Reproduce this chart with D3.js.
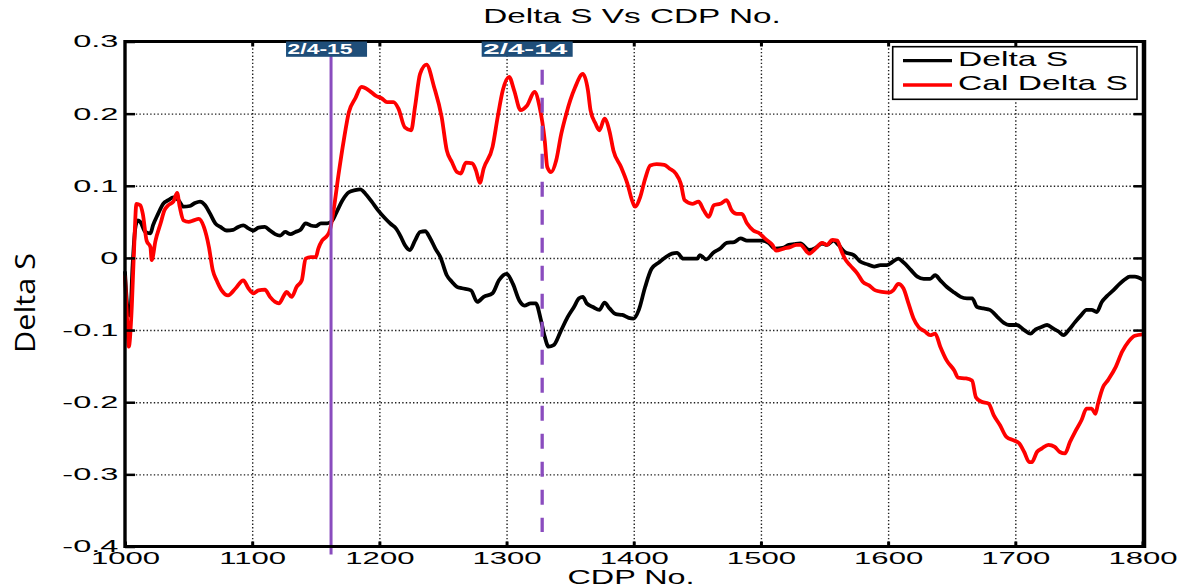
<!DOCTYPE html>
<html>
<head>
<meta charset="utf-8">
<script src="https://cdn.jsdelivr.net/npm/d3@7"></script>
<style>
  html, body { margin: 0; padding: 0; background: #ffffff; }
  svg { display: block; }
</style>
</head>
<body>
<svg id="chart" width="1182" height="588"></svg>
<script>
// ---------------- DATA ----------------
const chartTitle = "Delta S Vs CDP No.";
const xLabel = "CDP No.";
const yLabel = "Delta S";
const xTicks = [1000, 1100, 1200, 1300, 1400, 1500, 1600, 1700, 1800];
const yTicks = [-0.4, -0.3, -0.2, -0.1, 0, 0.1, 0.2, 0.3];
const yTickLabels = ["-0.4", "-0.3", "-0.2", "-0.1", "0", "0.1", "0.2", "0.3"];
const seriesNames = ["Delta S", "Cal Delta S"];

const deltaSCdp = [1000,1002,1004,1006,1008,1010,1012,1016,1020,1022,1026,1030,1034,1038,1042,1046,1051,1055,1059,1063,1067,1071,1075,1080,1085,1089,1093,1097,1101,1105,1110,1114,1118,1122,1126,1130,1134,1138,1142,1146,1150,1154,1159,1163,1167,1171,1176,1181,1185,1189,1194,1199,1205,1209,1213,1217,1220,1224,1228,1232,1236,1240,1244,1248,1253,1257,1261,1265,1272,1277,1282,1289,1294,1300,1305,1310,1314,1319,1323,1327,1330,1333,1337,1343,1348,1353,1357,1360,1363,1368,1373,1377,1381,1386,1391,1396,1400,1404,1409,1414,1420,1425,1430,1434,1439,1444,1450,1452,1457,1463,1468,1473,1479,1484,1489,1496,1501,1506,1511,1517,1522,1526,1531,1538,1543,1548,1552,1557,1561,1566,1573,1578,1584,1589,1594,1599,1603,1608,1612,1618,1623,1628,1633,1637,1641,1646,1652,1657,1662,1666,1670,1675,1680,1686,1691,1695,1701,1707,1712,1716,1720,1725,1730,1734,1738,1742,1747,1752,1756,1760,1764,1768,1772,1777,1782,1786,1790,1794,1800];
const deltaS = [-0.02,-0.07,-0.08,-0.01,0.04,0.052,0.05,0.036,0.034,0.045,0.061,0.075,0.08,0.084,0.08,0.071,0.072,0.076,0.078,0.073,0.061,0.048,0.043,0.038,0.039,0.043,0.045,0.041,0.038,0.042,0.043,0.038,0.033,0.031,0.036,0.033,0.036,0.039,0.048,0.045,0.044,0.048,0.048,0.052,0.066,0.08,0.091,0.094,0.095,0.089,0.078,0.066,0.054,0.047,0.041,0.029,0.018,0.011,0.024,0.036,0.037,0.027,0.013,0.001,-0.024,-0.033,-0.040,-0.042,-0.045,-0.061,-0.054,-0.049,-0.031,-0.022,-0.036,-0.059,-0.066,-0.063,-0.063,-0.086,-0.109,-0.123,-0.121,-0.1,-0.082,-0.068,-0.056,-0.054,-0.063,-0.068,-0.072,-0.062,-0.070,-0.078,-0.079,-0.083,-0.084,-0.072,-0.04,-0.015,-0.006,0.001,0.006,0.007,-0.001,-0.001,-0.001,0.004,-0.002,0.008,0.013,0.021,0.022,0.027,0.024,0.024,0.024,0.021,0.013,0.014,0.018,0.019,0.02,0.011,0.014,0.02,0.018,0.024,0.018,0.008,0.004,-0.005,-0.009,-0.012,-0.01,-0.01,-0.006,-0.001,-0.006,-0.017,-0.026,-0.029,-0.029,-0.024,-0.031,-0.040,-0.048,-0.054,-0.056,-0.056,-0.068,-0.07,-0.072,-0.082,-0.09,-0.093,-0.093,-0.1,-0.105,-0.099,-0.096,-0.093,-0.098,-0.102,-0.107,-0.1,-0.089,-0.079,-0.072,-0.072,-0.075,-0.061,-0.053,-0.045,-0.036,-0.03,-0.026,-0.026,-0.03];

const calDeltaSCdp = [1000,1001.5,1003,1005,1007,1009,1012,1014,1017,1020,1021,1024,1028,1031,1034,1038,1041,1043,1046,1050,1054,1058,1062,1066,1069,1072,1076,1081,1087,1093,1097,1101,1105,1110,1114,1118,1121,1125,1127,1131,1135,1139,1142,1146,1150,1152,1155,1159,1161,1164,1168,1172,1176,1181,1186,1192,1197,1202,1206,1211,1215,1220,1225,1228,1232,1237,1243,1249,1253,1257,1261,1264,1268,1273,1276,1279,1282,1289,1293,1297,1302,1306,1311,1316,1322,1326,1330,1332,1335,1339,1343,1347,1350,1354,1360,1364,1366,1370,1373,1377,1381,1384,1390,1395,1399,1401,1405,1409,1413,1418,1424,1428,1433,1437,1440,1446,1451,1455,1459,1463,1468,1473,1477,1481,1485,1489,1494,1499,1503,1509,1512,1518,1523,1528,1531,1538,1543,1548,1552,1556,1560,1563,1566,1570,1576,1580,1585,1590,1595,1601,1604,1608,1612,1616,1620,1624,1629,1633,1637,1641,1646,1652,1655,1661,1666,1669,1673,1679,1683,1688,1693,1699,1703,1707,1711,1713,1717,1721,1726,1731,1735,1739,1743,1747,1752,1756,1760,1763,1765,1769,1773,1779,1784,1789,1794,1800];
const calDeltaS = [-0.026,-0.08,-0.123,-0.08,0.006,0.075,0.073,0.061,0.024,0.015,-0.003,0.024,0.048,0.066,0.073,0.078,0.09,0.071,0.052,0.05,0.052,0.054,0.043,0.015,-0.017,-0.031,-0.045,-0.052,-0.042,-0.031,-0.042,-0.049,-0.045,-0.044,-0.054,-0.061,-0.063,-0.052,-0.047,-0.054,-0.040,-0.031,-0.001,0.001,0.001,0.013,0.024,0.031,0.038,0.066,0.117,0.163,0.202,0.221,0.237,0.232,0.225,0.221,0.216,0.216,0.207,0.181,0.177,0.209,0.255,0.268,0.237,0.195,0.149,0.133,0.119,0.117,0.132,0.131,0.121,0.104,0.124,0.154,0.195,0.232,0.251,0.232,0.205,0.211,0.23,0.209,0.163,0.126,0.119,0.135,0.172,0.2,0.218,0.237,0.255,0.232,0.205,0.186,0.177,0.193,0.175,0.149,0.126,0.103,0.078,0.071,0.084,0.11,0.128,0.13,0.129,0.124,0.117,0.103,0.08,0.075,0.078,0.066,0.057,0.073,0.075,0.08,0.066,0.061,0.061,0.048,0.038,0.034,0.027,0.018,0.01,0.013,0.015,0.018,0.018,0.006,0.013,0.021,0.018,0.025,0.024,0.011,-0.001,-0.01,-0.022,-0.033,-0.038,-0.045,-0.047,-0.048,-0.045,-0.036,-0.042,-0.063,-0.084,-0.096,-0.102,-0.107,-0.105,-0.123,-0.142,-0.156,-0.166,-0.167,-0.17,-0.193,-0.199,-0.202,-0.218,-0.232,-0.248,-0.253,-0.257,-0.269,-0.283,-0.283,-0.269,-0.264,-0.259,-0.262,-0.269,-0.271,-0.255,-0.241,-0.225,-0.209,-0.209,-0.216,-0.202,-0.179,-0.169,-0.151,-0.13,-0.116,-0.108,-0.106];

const markerCdp = [1162, 1328];
const markerLabels = ["2/4-15", "2/4-14"];
const markerTop = [0.3, 0.261];
const markerBottom = [-0.411, -0.38];

// ---------------- LAYOUT / STYLE ----------------
const FONT = "'Liberation Sans', Arial, Helvetica, sans-serif";
const margin = { left: 125, right: 1142.5, top: 41.5, bottom: 546.5 };
const seriesColors = ["#000000", "#ff0000"];
const markerColor = "#8a4cbe";
const markerDashed = [false, true];
const labelBoxOffset = [-45, -60.5];
const labelBoxWidth = [81, 91];
const labelTextLen = [65, 84];

const svg = d3.select("#chart");
svg.append("rect").attr("width", 1182).attr("height", 588).attr("fill", "#fff");

const x = d3.scaleLinear().domain([1000, 1800]).range([margin.left, margin.right]);
const y = d3.scaleLinear().domain([-0.4, 0.3]).range([margin.bottom, margin.top]);

// grid lines (dotted)
const gridX = svg.append("g").attr("transform", `translate(0,${margin.bottom})`)
  .call(d3.axisBottom(x).tickValues(xTicks.slice(1, -1)).tickSize(-(margin.bottom - margin.top)).tickFormat(""));
const gridY = svg.append("g").attr("transform", `translate(${margin.left},0)`)
  .call(d3.axisLeft(y).tickValues(yTicks.slice(1, -1)).tickSize(-(margin.right - margin.left)).tickFormat(""));
[gridX, gridY].forEach(g => {
  g.select(".domain").remove();
  g.selectAll("line").attr("stroke", "#222").attr("stroke-width", 1.4).attr("stroke-dasharray", "1.4,2.2");
});

// data lines
const line = d3.line().curve(d3.curveMonotoneX).x(d => x(d[0])).y(d => y(d[1]));
const blackData = deltaSCdp.map((c, i) => [c, deltaS[i]]);
const redData = calDeltaSCdp.map((c, i) => [c, calDeltaS[i]]);
svg.append("path").datum(blackData).attr("d", line).attr("fill", "none")
  .attr("stroke", seriesColors[0]).attr("stroke-width", 3.8).attr("stroke-linejoin", "round").attr("stroke-linecap", "round");
svg.append("path").datum(redData).attr("d", line).attr("fill", "none")
  .attr("stroke", seriesColors[1]).attr("stroke-width", 3.8).attr("stroke-linejoin", "round").attr("stroke-linecap", "round");

// marker lines
markerCdp.forEach((c, i) => {
  svg.append("line")
    .attr("x1", x(c)).attr("x2", x(c))
    .attr("y1", y(markerTop[i])).attr("y2", y(markerBottom[i]))
    .attr("stroke", markerColor).attr("stroke-width", markerDashed[i] ? 3.3 : 3)
    .attr("stroke-dasharray", markerDashed[i] ? "15,13" : null);
});

// frame
svg.append("line").attr("x1", margin.left).attr("x2", margin.right + 2).attr("y1", margin.top).attr("y2", margin.top)
  .attr("stroke", "#000").attr("stroke-width", 3.2);
svg.append("line").attr("x1", margin.left).attr("x2", margin.right + 2).attr("y1", margin.bottom).attr("y2", margin.bottom)
  .attr("stroke", "#000").attr("stroke-width", 3);
svg.append("line").attr("x1", margin.left).attr("x2", margin.left).attr("y1", margin.top - 1.6).attr("y2", margin.bottom + 1.5)
  .attr("stroke", "#000").attr("stroke-width", 3.4);
svg.append("line").attr("x1", margin.right + 1.5).attr("x2", margin.right + 1.5).attr("y1", margin.top - 1.6).attr("y2", margin.bottom + 1.5)
  .attr("stroke", "#000").attr("stroke-width", 4.5);

// axes ticks (inward) and labels
const xAxis = svg.append("g").attr("transform", `translate(0,${margin.bottom})`)
  .call(d3.axisBottom(x).tickValues(xTicks).tickSize(-5).tickFormat(d3.format("d")));
xAxis.select(".domain").remove();
xAxis.selectAll("line").attr("stroke", "#000").attr("stroke-width", 3);
xAxis.selectAll("text").attr("y", 0).attr("dy", 0)
  .attr("transform", "translate(0,17.5) scale(1.83,1)")
  .attr("font-family", FONT).attr("font-size", 17).attr("fill", "#000");

const xTop = svg.append("g").attr("transform", `translate(0,${margin.top})`)
  .call(d3.axisTop(x).tickValues(xTicks.slice(1, -1)).tickSize(-5).tickFormat(""));
xTop.select(".domain").remove();
xTop.selectAll("line").attr("stroke", "#000").attr("stroke-width", 3);

const yAxis = svg.append("g").attr("transform", `translate(${margin.left},0)`)
  .call(d3.axisLeft(y).tickValues(yTicks).tickSize(-10).tickFormat((d, i) => yTickLabels[i]));
yAxis.select(".domain").remove();
yAxis.selectAll("line").attr("stroke", "#000").attr("stroke-width", 2.5);
yAxis.selectAll("text").attr("x", 0).attr("dy", "0.33em")
  .attr("transform", "translate(-6.5,0) scale(2.0,1)")
  .attr("text-anchor", "end")
  .attr("font-family", FONT).attr("font-size", 16.3).attr("fill", "#000");

const yRight = svg.append("g").attr("transform", `translate(${margin.right + 1},0)`)
  .call(d3.axisRight(y).tickValues(yTicks.slice(1, -1)).tickSize(-10).tickFormat(""));
yRight.select(".domain").remove();
yRight.selectAll("line").attr("stroke", "#000").attr("stroke-width", 2.5);

// marker labels
markerCdp.forEach((c, i) => {
  const left = x(c) + labelBoxOffset[i];
  svg.append("rect").attr("x", left).attr("y", 41.5).attr("width", labelBoxWidth[i]).attr("height", 15.3)
    .attr("fill", "#1f4e79");
  svg.append("text").attr("x", left + 1.5).attr("y", 54.4)
    .attr("font-family", FONT).attr("font-weight", "bold").attr("font-size", 15.4)
    .attr("fill", "#fff").attr("textLength", labelTextLen[i]).attr("lengthAdjust", "spacingAndGlyphs")
    .text(markerLabels[i]);
});

// helper for stretched text
function stretched(tx, ty, str, size, sx, anchor) {
  svg.append("text").attr("transform", `translate(${tx},${ty}) scale(${sx},1)`)
    .attr("text-anchor", anchor).attr("font-family", FONT).attr("font-size", size)
    .attr("fill", "#000").text(str);
}

// title and x label
stretched(632, 23.2, chartTitle, 19.5, 1.71, "middle");
stretched(631, 584, xLabel, 19.5, 1.66, "middle");

// y label
svg.append("text").attr("transform", "translate(35,303) rotate(-90)")
  .attr("text-anchor", "middle").attr("font-family", "'Open Sans', 'Noto Sans', sans-serif")
  .attr("font-size", 27).attr("fill", "#000")
  .attr("textLength", 100).attr("lengthAdjust", "spacingAndGlyphs")
  .text(yLabel);

// legend
const legend = svg.append("g");
legend.append("rect").attr("x", 892.7).attr("y", 46.7).attr("width", 244.3).attr("height", 52.6)
  .attr("fill", "#fff").attr("stroke", "#000").attr("stroke-width", 1.6);
const legendY = [60.7, 85];
const legendBase = [65.6, 90];
seriesNames.forEach((n, i) => {
  legend.append("line").attr("x1", 903).attr("x2", 952).attr("y1", legendY[i]).attr("y2", legendY[i])
    .attr("stroke", seriesColors[i]).attr("stroke-width", 3.3);
  stretched(958, legendBase[i], n, 20.5, 1.64, "start");
});
</script>
</body>
</html>
